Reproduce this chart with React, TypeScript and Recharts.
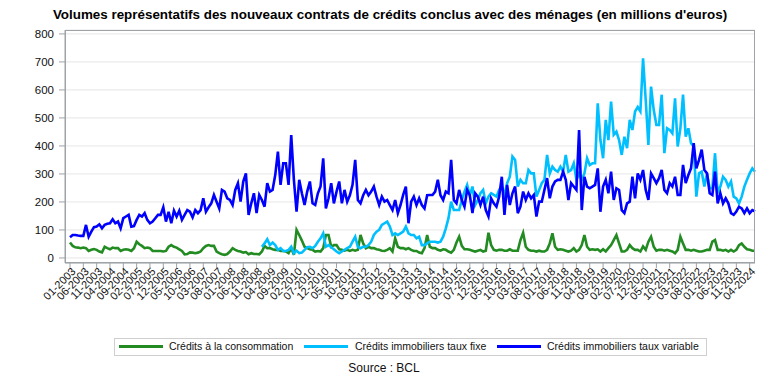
import { LineChart, Line, XAxis, YAxis, CartesianGrid } from 'recharts';

// monthly values, 01-2003 .. 06-2024 (millions EUR)
const consumption = [
  55, 43, 38, 37, 35, 37, 35, 25, 29, 32, 29, 23, 20, 40, 35, 31, 37, 35, 35, 25, 29, 31, 29, 25,
  35, 58, 49, 43, 35, 37, 35, 25, 25, 25, 25, 23, 25, 40, 46, 40, 37, 31, 25, 13, 14, 20, 19,
  17, 19, 23, 35, 43, 46, 43, 43, 23, 17, 13, 11, 14, 23, 35, 29, 25, 23, 19, 21, 13, 17, 14, 14,
  13, 23, 43, 35, 35, 31, 29, 29, 25, 25, 23, 17, 35, 11, 100, 82, 62, 40, 35, 31, 29, 23, 25, 23,
  35, 82, 82, 40, 46,
  46, 31, 29, 26, 29, 25, 29, 26, 29, 82, 52, 35, 40, 35, 35, 31, 29, 26, 25, 29, 35, 23, 70, 40,
  35, 35, 31, 35, 29, 25, 25, 19, 17, 35, 82, 40, 35, 35, 29, 26, 31, 29, 23, 19, 29, 55, 76, 43,
  31, 31, 29, 26,
  23, 26, 29, 23, 26, 90, 46, 29, 26, 29, 29, 26, 26, 31, 26, 26, 26, 64, 90, 40, 29, 26, 26, 23,
  26, 23, 23, 29, 52, 88, 40, 29, 31, 29, 26, 23, 26, 35, 23, 29, 46, 82, 40, 29, 31, 29, 31, 23,
  31, 23, 35, 46, 64,
  82, 52, 23, 23, 29, 46, 35, 29, 29, 23, 41, 29, 58, 76, 40, 26, 29, 29, 26, 29, 26, 23, 17, 29,
  76, 52, 29, 29, 26, 29, 26, 23, 23, 26, 29, 29, 58, 64, 29, 29, 26, 29, 23, 29, 23, 29, 46, 52,
  40, 31, 29, 26, 26,
];

// fixed rate series only starts in 01-2009
const fixedRateStart = 72;
const fixedRate = [
  40, 52, 67, 46, 55, 46, 29, 35, 25, 25, 29, 40, 17, 26, 17, 19, 29, 38, 40, 35, 43, 58, 70, 88,
  40, 46, 38, 31,
  23, 17, 23, 29, 35, 40, 58, 76, 40, 35, 40, 40, 46, 58, 82, 94, 100, 118, 124, 130, 112, 82, 88, 82,
  88, 94, 112, 88, 82, 82, 70, 76, 46, 46, 52, 58, 58, 58, 55, 58, 76, 106, 142, 201, 171, 171, 171, 207,
  237, 261, 224, 255,
  189, 207, 231, 243, 195, 219, 231, 225, 219, 243, 255, 225, 267, 290, 362, 350, 255, 279, 267, 267,
  314, 302, 302, 219, 243, 267, 279, 368, 302, 326, 314, 308, 326, 308, 368, 308, 314, 338, 279, 302,
  279, 302, 356, 332, 338, 338, 552, 421, 356, 493, 421, 558, 440,
  451, 421, 368, 433, 392, 493, 457, 523, 539, 523, 713, 564, 404, 612, 529, 475, 475, 583, 374, 463,
  457, 445, 570, 398, 463, 583, 433, 463, 410, 398, 219, 302, 308, 255, 302, 249, 249, 374, 231, 255,
  290, 279, 255, 273, 219, 213, 195, 219, 255, 279, 302, 320, 308,
];

const variableRate = [
  74, 82, 82, 80, 79, 79, 118, 76, 94, 110, 112, 120, 106, 118, 122, 124, 138, 124, 130, 106, 142, 148,
  154, 112, 114, 136, 154, 148, 160, 136, 124, 130, 142, 154, 154, 181, 130, 165, 124, 169, 148, 169,
  136, 154, 171, 165, 145,
  171, 160, 171, 213, 165, 181, 195, 225, 201, 177, 243, 237, 213, 207, 189, 243, 267, 201, 273, 302,
  154, 195, 231, 160, 225, 207, 183, 267, 237, 243, 296, 380, 261, 338, 338, 261, 439, 279, 165, 279,
  231, 189, 237, 273, 195, 189, 231, 255, 356, 177, 213, 267, 195,
  237, 273, 195, 243, 201, 224, 261, 350, 207, 195, 224, 243, 224, 237, 255, 219, 189, 219, 201, 207,
  189, 171, 207, 160, 189, 225, 255, 124, 201, 219, 189, 213, 189, 177, 224, 225, 225, 237, 279, 224,
  207, 237, 231, 350, 207, 195, 243, 207, 183, 243, 224, 160,
  231, 219, 189, 219, 171, 148, 213, 195, 183, 219, 290, 154, 261, 189, 231, 255, 160, 183, 237, 207,
  231, 213, 225, 148, 201, 201, 243, 285, 213, 255, 273, 279, 279, 308, 279, 207, 267, 255, 243, 457,
  171, 290, 255, 249, 255, 261, 320, 165, 255, 279, 231, 308, 207,
  249, 243, 171, 160, 195, 201, 290, 213, 302, 279, 314, 243, 207, 302, 285, 267, 285, 314, 243, 231,
  267, 255, 290, 225, 225, 332, 267, 296, 320, 410, 320, 350, 387, 314, 302, 231, 225, 308, 195, 231,
  195, 213, 195, 160, 154, 166, 183, 177, 160, 177, 160, 171, 166,
];

const months = variableRate.map((_, i) => {
  const mm = String((i % 12) + 1).padStart(2, '0');
  return `${mm}-${2003 + Math.floor(i / 12)}`;
});

const yTicks = [0, 100, 200, 300, 400, 500, 600, 700, 800];

const seriesInfo = [
  { key: 'conso', label: 'Crédits à la consommation', color: '#228B22' },
  { key: 'fixe', label: 'Crédits immobiliers taux fixe', color: '#00BFFF' },
  { key: 'variable', label: 'Crédits immobiliers taux variable', color: '#0000FF' },
];

// legend item x positions (line start, text start), relative to page
const legendPos = [
  [119, 169],
  [304, 355],
  [497, 547],
];

const FONT = '"Liberation Sans", Arial, sans-serif';
const AXIS = '#9ea3a8';

const data = months.map((month, i) => ({
  month,
  conso: consumption[i],
  fixe: i >= fixedRateStart ? fixedRate[i - fixedRateStart] : null,
  variable: variableRate[i],
}));

const MonthTick = ({ x, y, payload }: any) => (
  <g transform={`translate(${x},${y})`}>
    <text x={0} y={0} dy={6} dx={3} textAnchor="end" transform="rotate(-45)" fontSize={11} fill="#111" fontFamily={FONT}>
      {payload.value}
    </text>
  </g>
);

export default function App() {
  return (
    <div style={{ position: 'fixed', left: 0, top: 0, width: 768, height: 384, background: '#fff', fontFamily: FONT }}>
      <div style={{ position: 'absolute', left: 0, top: 7, width: 780, textAlign: 'center', fontSize: 13.4, fontWeight: 'bold', color: '#000' }}>
        Volumes représentatifs des nouveaux contrats de crédits conclus avec des ménages (en millions d'euros)
      </div>
      <div style={{ position: 'absolute', left: 0, top: 0 }}>
        <LineChart width={768} height={384} data={data} margin={{ top: 30, right: 13, left: 15, bottom: 71 }}>
          <CartesianGrid vertical={false} stroke="#e6e6e6" />
          <XAxis
            dataKey="month"
            interval={4}
            height={50}
            padding={{ left: 5, right: 0 }}
            tick={<MonthTick />}
            tickSize={5}
            tickLine={{ stroke: AXIS }}
            axisLine={{ stroke: AXIS }}
          />
          <YAxis
            domain={[-18, 814]}
            ticks={yTicks}
            width={50}
            tickSize={6}
            tickMargin={5}
            tickLine={{ stroke: AXIS }}
            axisLine={{ stroke: AXIS }}
            tick={{ fontSize: 11.5, fill: '#111', fontFamily: FONT }}
          />
          {seriesInfo.map(s => (
            <Line
              key={s.key}
              dataKey={s.key}
              stroke={s.color}
              strokeWidth={2.6}
              dot={false}
              connectNulls={false}
              isAnimationActive={false}
              type="linear"
            />
          ))}
        </LineChart>
      </div>
      {/* plot frame */}
      <div style={{ position: 'absolute', left: 65, top: 30, width: 690, height: 233, border: `1px solid ${AXIS}`, boxSizing: 'border-box', pointerEvents: 'none' }} />
      {/* legend */}
      <div style={{ position: 'absolute', left: 114, top: 338, width: 593, height: 18, border: '1px solid #cfcfcf', boxSizing: 'border-box' }} />
      {seriesInfo.map((s, i) => (
        <div key={s.key}>
          <div style={{ position: 'absolute', left: legendPos[i][0], top: 345, width: 44, height: 3, background: s.color }} />
          <div style={{ position: 'absolute', left: legendPos[i][1], top: 340, fontSize: 10.5, lineHeight: '13px', color: '#111', whiteSpace: 'nowrap' }}>
            {s.label}
          </div>
        </div>
      ))}
      <div style={{ position: 'absolute', left: 0, top: 361, width: 768, textAlign: 'center', fontSize: 12, color: '#111' }}>
        Source : BCL
      </div>
    </div>
  );
}
